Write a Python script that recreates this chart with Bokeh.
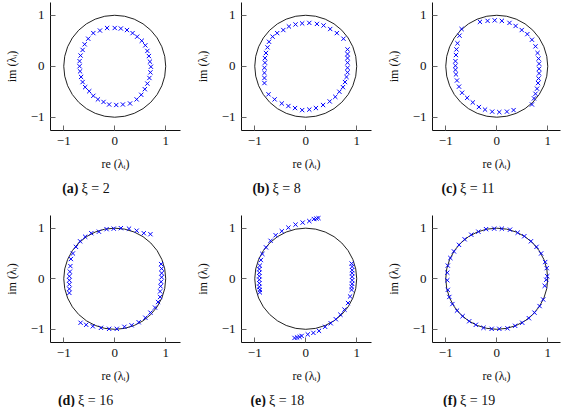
from bokeh.plotting import figure
from bokeh.layouts import column, row
from bokeh.models import FixedTicker, Range1d
from bokeh.core.properties import value
from bokeh.embed import file_html
from bokeh.resources import INLINE

# ---------------- data ----------------
tags = ["(a)", "(b)", "(c)", "(d)", "(e)", "(f)"]
xi_values = [2, 8, 11, 16, 18, 19]
tick_values = [-1, 0, 1]
tick_labels = ["\u22121", "0", "1"]

a_re = [0.00, 0.12, 0.24, 0.35, 0.44, 0.53, 0.60, 0.64, 0.67, 0.69, 0.71, 0.70, 0.68, 0.64, 0.59, 0.52, 0.43, 0.30, 0.16, 0.03,
        -0.11, -0.22, -0.33, -0.42, -0.50, -0.58, -0.63, -0.66, -0.68, -0.69, -0.69, -0.67, -0.63, -0.59, -0.52, -0.42, -0.29, -0.15]
a_im = [0.75, 0.74, 0.71, 0.65, 0.58, 0.50, 0.41, 0.30, 0.20, 0.09, -0.01, -0.12, -0.23, -0.34, -0.45, -0.56, -0.65, -0.73, -0.75, -0.76,
        -0.75, -0.70, -0.65, -0.58, -0.49, -0.41, -0.31, -0.21, -0.10, 0.00, 0.10, 0.21, 0.32, 0.43, 0.54, 0.65, 0.70, 0.75]

b_re = [-0.07, 0.07, 0.22, 0.35, 0.48, 0.61, 0.74,
        0.82, 0.82, 0.82, 0.82, 0.82, 0.82, 0.80, 0.77, 0.73, 0.66, 0.58, 0.47, 0.34, 0.20, 0.07, -0.07, -0.21, -0.34, -0.47, -0.61, -0.73,
        -0.81, -0.81, -0.81, -0.81, -0.80, -0.80, -0.78, -0.75, -0.72, -0.65, -0.56, -0.44, -0.33, -0.20]
b_im = [0.84, 0.85, 0.83, 0.80, 0.73, 0.65, 0.54,
        0.33, 0.24, 0.16, 0.07, -0.03, -0.12, -0.21, -0.31, -0.41, -0.50, -0.60, -0.69, -0.76, -0.82, -0.85, -0.86, -0.82, -0.78, -0.73, -0.65, -0.55,
        -0.33, -0.23, -0.13, -0.03, 0.07, 0.16, 0.26, 0.37, 0.48, 0.58, 0.65, 0.71, 0.78, 0.82]

c_re = [-0.33, -0.18, -0.04, 0.10, 0.25, 0.37, 0.49, 0.60, 0.69, 0.76, 0.80, 0.82, 0.83, 0.83, 0.83, 0.82, 0.81, 0.79, 0.76, 0.73, 0.69,
        0.33, 0.20, 0.05, -0.09, -0.23, -0.35, -0.47, -0.58, -0.68, -0.74, -0.78, -0.80, -0.81, -0.81, -0.81, -0.80, -0.79, -0.77, -0.73, -0.69]
c_im = [0.87, 0.89, 0.90, 0.89, 0.85, 0.79, 0.71, 0.63, 0.52, 0.39, 0.26, 0.15, 0.05, -0.05, -0.14, -0.24, -0.33, -0.44, -0.54, -0.63, -0.75,
        -0.86, -0.89, -0.90, -0.89, -0.85, -0.80, -0.71, -0.62, -0.52, -0.40, -0.28, -0.16, -0.07, 0.01, 0.10, 0.22, 0.33, 0.45, 0.60, 0.73]

d_re = [-0.89, -0.89, -0.89, -0.89, -0.89, -0.88, -0.87, -0.86, -0.82, -0.76, -0.68, -0.58, -0.46, -0.31, -0.16, -0.02, 0.12, 0.28, 0.43, 0.57, 0.70,
        0.91, 0.92, 0.92, 0.92, 0.91, 0.90, 0.89, 0.89, 0.85, 0.79, 0.70, 0.60, 0.47, 0.33, 0.19, 0.04, -0.11, -0.27, -0.43, -0.56, -0.67]
d_im = [-0.28, -0.20, -0.11, -0.03, 0.05, 0.14, 0.25, 0.39, 0.50, 0.63, 0.74, 0.83, 0.90, 0.93, 0.98, 0.99, 1.00, 0.99, 0.95, 0.90, 0.88,
        0.29, 0.20, 0.11, 0.03, -0.06, -0.15, -0.25, -0.36, -0.46, -0.57, -0.67, -0.77, -0.86, -0.92, -0.95, -0.99, -0.99, -0.97, -0.94, -0.91, -0.87]

e_re = [0.25, 0.21, 0.16, 0.07, -0.06, -0.20, -0.34, -0.47, -0.59, -0.69, -0.78, -0.85, -0.88,
        -0.90, -0.91, -0.91, -0.91, -0.91, -0.91, -0.91, -0.90, -0.90,
        0.90, 0.91, 0.91, 0.91, 0.91, 0.91, 0.91, 0.90, 0.90,
        0.87, 0.83, 0.76, 0.68, 0.59, 0.49, 0.38, 0.26, 0.15, 0.04, -0.08, -0.12, -0.17, -0.22]
e_im = [1.20, 1.19, 1.18, 1.14, 1.11, 1.07, 1.01, 0.94, 0.86, 0.75, 0.62, 0.49, 0.37,
        0.26, 0.19, 0.12, 0.05, -0.02, -0.09, -0.16, -0.22, -0.27,
        0.30, 0.24, 0.17, 0.11, 0.04, -0.03, -0.10, -0.16, -0.22,
        -0.35, -0.48, -0.61, -0.71, -0.80, -0.88, -0.95, -1.03, -1.07, -1.10, -1.13, -1.15, -1.16, -1.17]

f_re = [0.99, 0.98, 0.95, 0.87, 0.78, 0.67, 0.54, 0.41, 0.26, 0.10, -0.05, -0.21, -0.36, -0.50, -0.63, -0.74, -0.84, -0.91, -0.96, -0.97,
        -0.97, -0.96, -0.93, -0.87, -0.78, -0.67, -0.54, -0.41, -0.26, -0.10, 0.05, 0.21, 0.36, 0.50, 0.63, 0.74, 0.84, 0.91, 0.94, 0.97]
f_im = [0.05, 0.21, 0.33, 0.50, 0.63, 0.74, 0.84, 0.91, 0.97, 0.99, 0.99, 0.98, 0.93, 0.87, 0.78, 0.67, 0.54, 0.41, 0.26, 0.12,
        -0.03, -0.22, -0.36, -0.50, -0.63, -0.74, -0.84, -0.91, -0.97, -0.99, -0.99, -0.98, -0.93, -0.87, -0.78, -0.67, -0.54, -0.41, -0.14, -0.02]

panels = [(a_re, a_im), (b_re, b_im), (c_re, c_im), (d_re, d_im), (e_re, e_im), (f_re, f_im)]

FONT = "'Liberation Serif', 'Times New Roman', 'DejaVu Serif', serif"
INK = "#111111"

MAIN_H = [178, 172]     # height of the plot figure in each row
STRIP_H = [35, 22]      # height of the caption strip in each row
CAP_Y = [25, 7.5]       # caption centre inside the strip (from its bottom)
TOP = [2, 2]


def col_width(col):
    return 179 if col == 2 else 191


def make_panel(idx):
    col = idx % 3
    rw = idx // 3
    last = col == 2
    width = col_width(col)
    right = 1 if last else 11
    xmax = 1.25 if last else 1.29
    height = MAIN_H[rw]
    top = TOP[rw]
    bottom = height - top - 128
    p = figure(width=width, height=height,
               x_range=Range1d(-1.26, xmax), y_range=Range1d(-1.26, 1.25),
               output_backend="svg", toolbar_location=None,
               min_border_left=50, min_border_right=right,
               min_border_top=top, min_border_bottom=bottom)
    p.outline_line_color = None
    p.xgrid.visible = False
    p.ygrid.visible = False

    for ax in (p.xaxis[0], p.yaxis[0]):
        ax.ticker = FixedTicker(ticks=tick_values)
        ax.major_label_overrides = {v: t for v, t in zip(tick_values, tick_labels)}
        ax.minor_tick_line_color = None
        ax.major_tick_in = 5
        ax.major_tick_out = 0
        ax.major_tick_line_color = "#666666"
        ax.axis_line_color = INK
        ax.axis_line_width = 1
        ax.major_label_text_font = FONT
        ax.major_label_text_font_size = "13px"
        ax.major_label_text_color = INK
        ax.major_label_standoff = 6
        ax.axis_label_text_font = FONT
        ax.axis_label_text_font_size = "12px"
        ax.axis_label_text_font_style = "normal"
        ax.axis_label_text_color = INK
        ax.axis_label_standoff = 9
    p.xaxis.axis_label = "re (\u03bb\u1d62)"
    p.yaxis.axis_label = "im (\u03bb\u1d62)"

    # unit circle
    p.ellipse(x=[0], y=[0], width=[2], height=[2], fill_color=None,
              line_color="#222222", line_width=1)
    re, im = panels[idx]
    p.scatter(re, im, marker="x", size=6, line_color="#0000ff", line_width=1)
    return p


def make_caption(idx):
    col = idx % 3
    rw = idx // 3
    width = col_width(col)
    h = STRIP_H[rw]
    c = figure(width=width, height=h, x_range=Range1d(0, width), y_range=Range1d(0, h),
               output_backend="svg", toolbar_location=None, min_border=0)
    c.axis.visible = False
    c.xgrid.visible = False
    c.ygrid.visible = False
    c.outline_line_color = None
    cy = CAP_Y[rw]
    split = 78 if xi_values[idx] < 10 else 74.5   # caption centred near x = 88
    c.text(x=[split], y=[cy], text=[tags[idx]], text_font=value(FONT),
           text_font_size="14px", text_font_style="bold", text_align="right",
           text_baseline="middle", text_color=INK)
    c.text(x=[split + 3], y=[cy], text=["\u03be = %d" % xi_values[idx]], text_font=value(FONT),
           text_font_size="14px", text_align="left",
           text_baseline="middle", text_color=INK)
    return c


figs = [make_panel(i) for i in range(6)]
caps = [make_caption(i) for i in range(6)]
layout = column(row(*figs[:3], spacing=0), row(*caps[:3], spacing=0),
                row(*figs[3:], spacing=0), row(*caps[3:], spacing=0), spacing=0)

open("out.html", "w").write(file_html(layout, INLINE))
